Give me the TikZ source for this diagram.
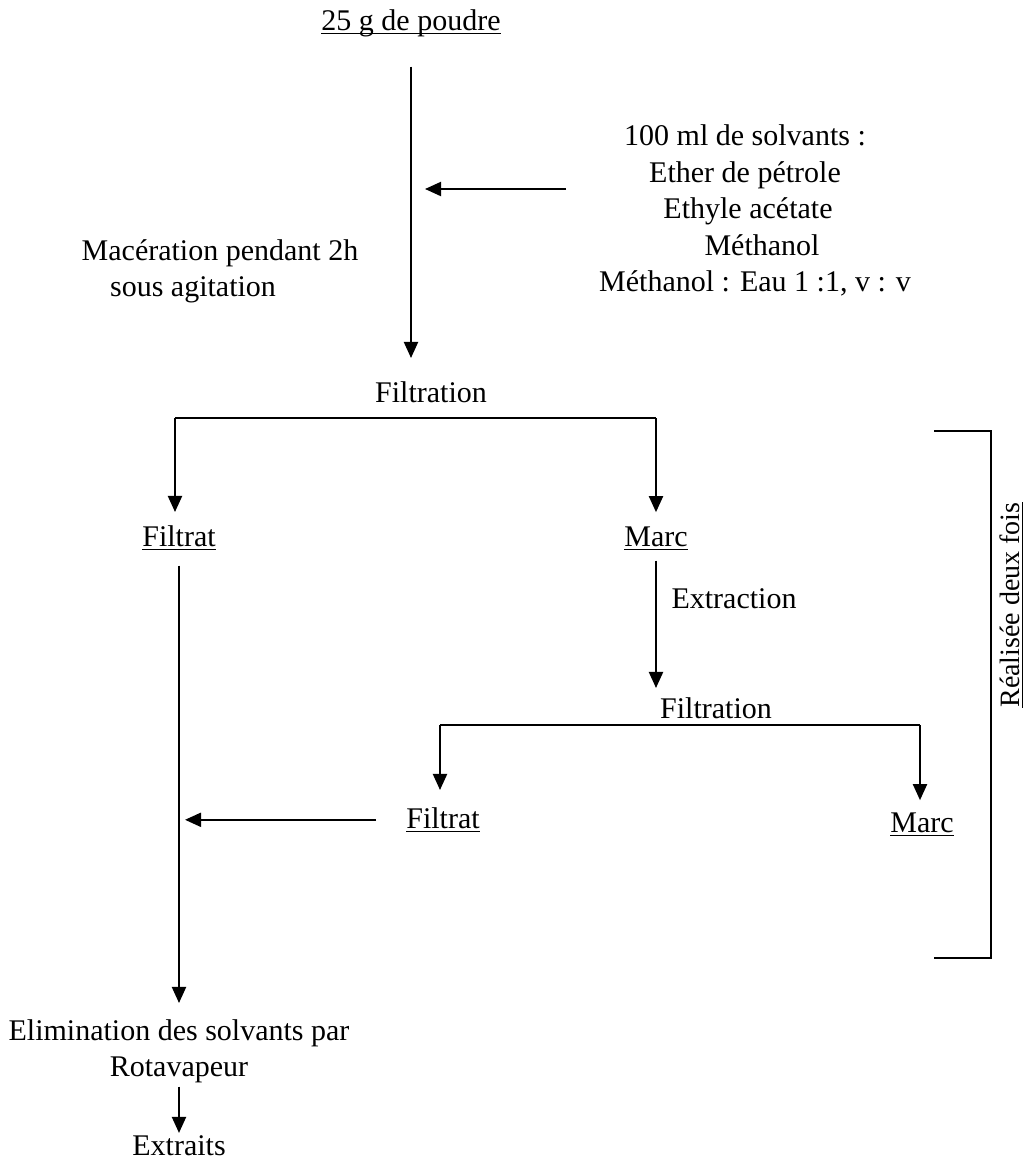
\documentclass[tikz,border=0pt]{standalone}
\usepackage{fontspec}
\setmainfont{Liberation Serif}
\usetikzlibrary{arrows.meta,calc}
\newcommand\myul[1]{\setbox0\hbox{#1}\rlap{\rule[-4.4pt]{\wd0}{1.6pt}}\box0}
\begin{document}
\begin{tikzpicture}[x=1pt,y=-1pt,
  txt/.style={inner sep=0pt, font=\fontsize{30}{36}\selectfont, anchor=base},
  arr/.style={line width=2pt, -{Triangle[length=16pt,width=14pt]}},
  ln/.style={line width=1.6pt},
  brk/.style={line width=1.2pt}]
\useasboundingbox (0,0) rectangle (1028,1160);
\node[txt] (poudre) at (411,30) {\myul{25 g de poudre}};
\node[txt] (mac1) at (220,260) {Macération pendant 2h};
\node[txt] (mac2) at (193,296) {sous agitation};
\node[txt] (sol1) at (745,145) {100 ml de solvants :};
\node[txt] (sol2) at (745,182) {Ether de pétrole};
\node[txt] (sol3) at (748,218) {Ethyle acétate};
\node[txt] (sol4) at (762,255) {Méthanol};
\node[txt] (sol5) at (755,291) {Méthanol : Eau 1 :1, v : v};
\node[txt] (filt1) at (431,402) {Filtration};
\node[txt] (filtrat1) at (179,546) {\myul{Filtrat}};
\node[txt] (marc1) at (656,546) {\myul{Marc}};
\node[txt] (extr) at (734,608) {Extraction};
\node[txt] (filt2) at (716,718) {Filtration};
\node[txt] (filtrat2) at (443,828) {\myul{Filtrat}};
\node[txt] (marc2) at (922,832) {\myul{Marc}};
\node[txt,rotate=90,font=\fontsize{28}{34}\selectfont] (fois) at (1019,605) {\myul{Réalisée deux fois}};
\node[txt] (elim1) at (179,1040) {Elimination des solvants par};
\node[txt] (elim2) at (179,1076) {Rotavapeur};
\node[txt] (extraits) at (179,1155) {Extraits};
% main arrow
\draw[arr, shorten <=30pt, shorten >=23pt] (poudre.south) -- (poudre.south |- filt1.north);
\coordinate (h1s) at (566,189);
\draw[arr, shorten >=14pt] (h1s) -- (h1s -| poudre.south);
% first split
\coordinate (l1a) at (175,418);
\coordinate (l1b) at (656,418);
\draw[ln] (l1a) -- (l1b);
\draw[arr, shorten >=13pt] (l1a) -- (l1a |- filtrat1.north);
\draw[arr, shorten >=14pt] (l1b) -- (l1b |- marc1.north);
% left long line
\draw[arr, shorten <=15pt, shorten >=16pt] (filtrat1.south) -- (filtrat1.south |- elim1.north);
% extraction
\draw[arr, shorten <=10pt, shorten >=9pt] (marc1.south) -- (marc1.south |- filt2.north);
% second split
\coordinate (l2a) at (440,725);
\coordinate (l2b) at (920,725);
\draw[ln] (l2a) -- (l2b);
\draw[arr, shorten >=17pt] (l2a) -- (l2a |- filtrat2.north);
\draw[arr, shorten >=12pt] (l2b) -- (l2b |- marc2.north);
% filtrat back to main line
\draw[arr, shorten <=30pt, shorten >=6pt] (filtrat2.west) -- (filtrat2.west -| filtrat1.south);
% rotavapeur
\draw[arr, shorten <=4pt, shorten >=2pt] (elim2.south) -- (elim2.south |- extraits.north);
% bracket
\coordinate (b1) at (934,431);
\coordinate (b2) at (991,431);
\coordinate (b3) at (991,958);
\coordinate (b4) at (934,958);
\draw[brk] (b1) -- (b2) -- (b3) -- (b4);
\end{tikzpicture}
\end{document}
